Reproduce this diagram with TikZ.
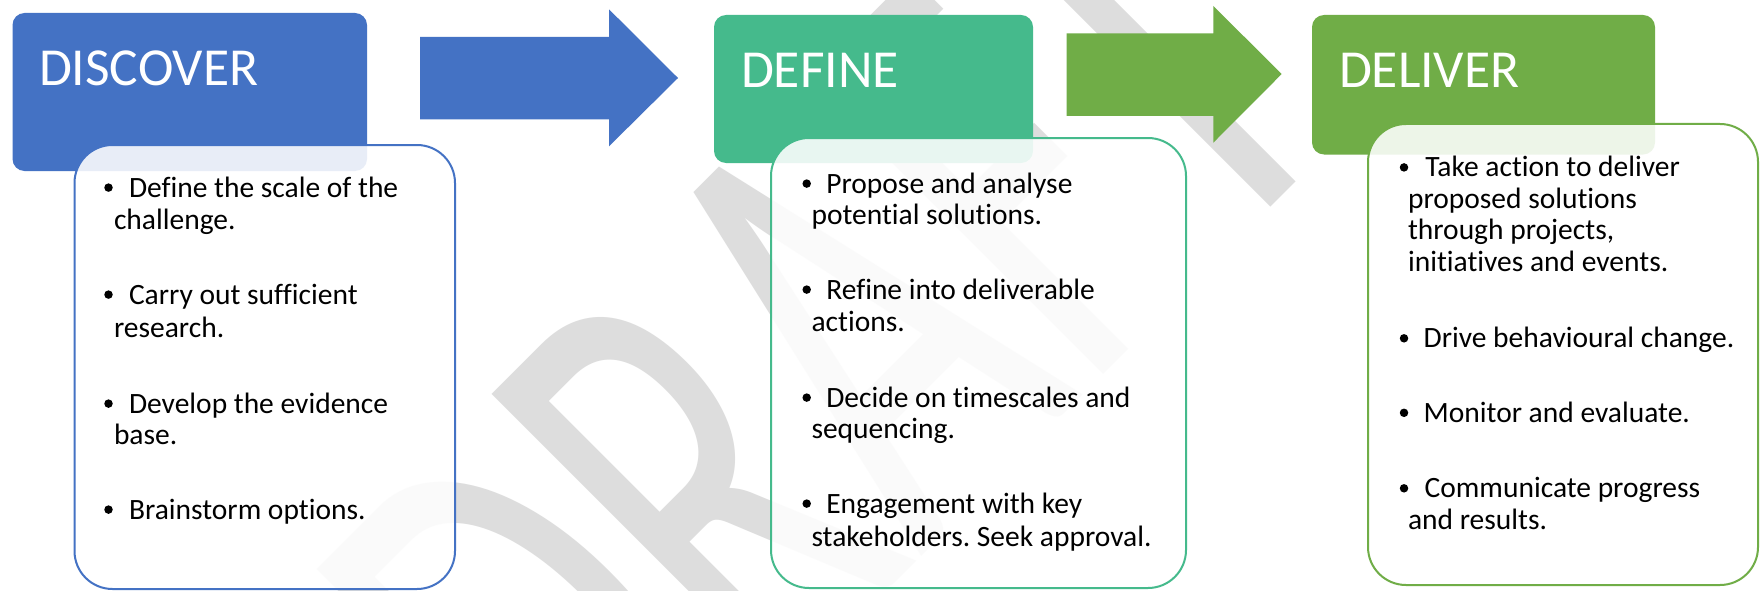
\documentclass[tikz,border=0pt]{standalone}
\usepackage{fontspec}
\setmainfont[Ligatures=NoCommon]{Carlito}
\newfontfamily\wmfont[Kerning=Off]{Carlito}
\frenchspacing
\definecolor{cblue}{HTML}{4472C4}
\definecolor{cteal}{HTML}{45BA8C}
\definecolor{cgreen}{HTML}{70AD47}
\definecolor{wmgray}{HTML}{DDDDDD}
\tikzset{
  hdr/.style={inner sep=0pt, outer sep=0pt, anchor=base west, text=white, font=\fontsize{53.5}{53.5}\selectfont},
  body/.style={inner sep=0pt, outer sep=0pt, anchor=base west, text=black, font=\fontsize{29.5}{29.5}\selectfont},
  dot/.style={circle, fill=black, inner sep=0pt, minimum size=8.5pt},
  tbox/.style={line width=2pt, fill=white, fill opacity=0.88, rounded corners=38pt},
  hbox/.style={rounded corners=12pt},
  wm/.style={inner sep=0pt, outer sep=0pt, anchor=base west, text=wmgray, font=\wmfont\fontsize{400}{400}\selectfont}
}
\begin{document}
\begin{tikzpicture}[x=1pt,y=-1pt]
\useasboundingbox (0,0) rectangle (1760,591);
\fill[white] (0,0) rectangle (1760,591);
% watermark
\begin{scope}
\clip (0,0) rectangle (1760,591);
\node[wm, rotate=45] (wmk) at (593.3,884.7) {\scalebox{1}[1.63]{DRAFT}};
\end{scope}
% arrows
\fill[cblue] (420,37) -- (609,37) -- (609,9.3) -- (678,78) -- (609,146.3) -- (609,119.5) -- (420,119.5) -- cycle;
\fill[cgreen] (1066.7,33.3) -- (1213.3,33.3) -- (1213.3,6) -- (1281.7,74) -- (1213.3,142.7) -- (1213.3,116) -- (1066.7,116) -- cycle;
% headers
\fill[cblue, hbox] (12.5,13) rectangle (367,171);
\fill[cteal, hbox] (714,15) rectangle (1033,163);
\fill[cgreen, hbox] (1312,15) rectangle (1655,154.5);
% text boxes
\draw[cblue, tbox] (74.5,145) rectangle (455,589);
\draw[cteal, tbox] (771,138) rectangle (1186,588);
\draw[cgreen, tbox] (1368,124) rectangle (1758,585);
% header texts
\node[hdr] (hdis) at (39,86) {DISCOVER};
\node[hdr] (hdef) at (741,87.5) {DEFINE};
\node[hdr] (hdel) at (1339,87.5) {DELIVER};
% DISCOVER items
\node[dot] (a1) at (108.5,187.6) {};
\node[body] (a1a) at (129,197) {Define the scale of the};
\node[body] (a1b) at (114,229) {challenge.};
\node[dot] (a2) at (108.5,294.6) {};
\node[body] (a2a) at (129,304) {Carry out sufficient};
\node[body] (a2b) at (114,337) {research.};
\node[dot] (a3) at (108.5,403.6) {};
\node[body] (a3a) at (129,413) {Develop the evidence};
\node[body] (a3b) at (114,444) {base.};
\node[dot] (a4) at (108.5,509.6) {};
\node[body] (a4a) at (129,519) {Brainstorm options.};
% DEFINE items
\node[dot] (b1) at (806.7,183.6) {};
\node[body] (b1a) at (826.3,193) {Propose and analyse};
\node[body] (b1b) at (811.5,224) {potential solutions.};
\node[dot] (b2) at (806.7,289.6) {};
\node[body] (b2a) at (826.3,299) {Refine into deliverable};
\node[body] (b2b) at (811.5,331) {actions.};
\node[dot] (b3) at (806.7,397.6) {};
\node[body] (b3a) at (826.3,407) {Decide on timescales and};
\node[body] (b3b) at (811.5,438) {sequencing.};
\node[dot] (b4) at (806.7,503.6) {};
\node[body] (b4a) at (826.3,513) {Engagement with key};
\node[body] (b4b) at (811.5,546) {stakeholders. Seek approval.};
% DELIVER items
\node[dot] (c1) at (1404,167.4) {};
\node[body] (c1a) at (1425.4,176.4) {Take action to deliver};
\node[body] (c1b) at (1408,208) {proposed solutions};
\node[body] (c1c) at (1408,239.7) {through projects,};
\node[body] (c1d) at (1408,271.4) {initiatives and events.};
\node[dot] (c2) at (1404,338.3) {};
\node[body] (c2a) at (1423.6,347.5) {Drive behavioural change.};
\node[dot] (c3) at (1404,412.8) {};
\node[body] (c3a) at (1423.6,422) {Monitor and evaluate.};
\node[dot] (c4) at (1404,488.3) {};
\node[body] (c4a) at (1424.6,497.5) {Communicate progress};
\node[body] (c4b) at (1408,529.6) {and results.};
\end{tikzpicture}
\end{document}
